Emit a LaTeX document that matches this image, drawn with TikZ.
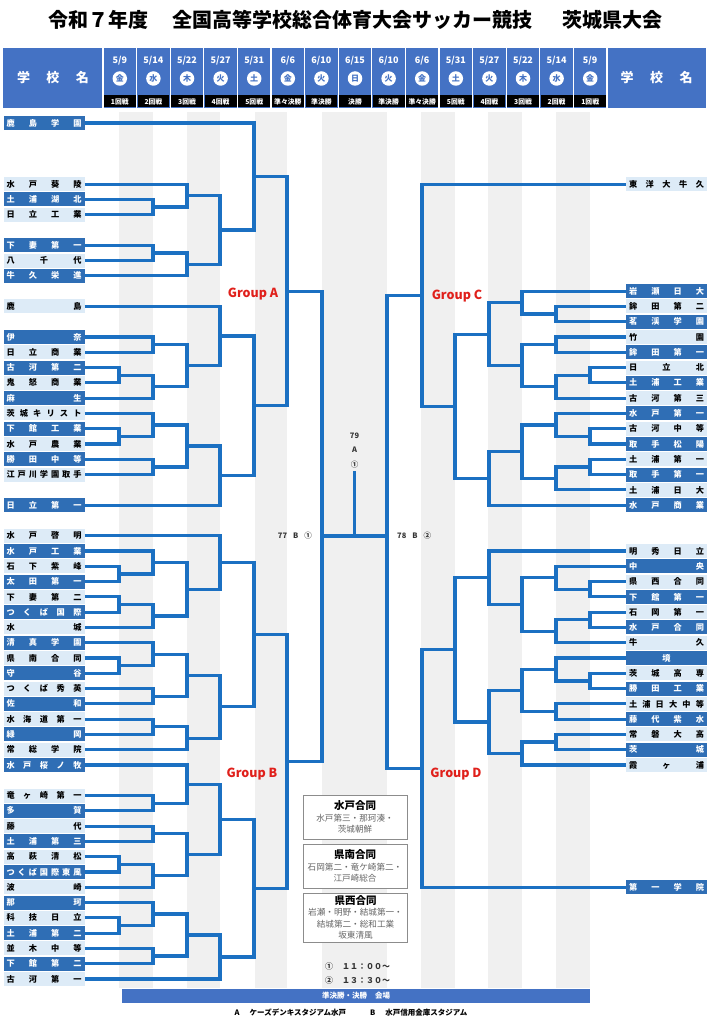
\documentclass[tikz,border=0pt]{standalone}
\usepackage{fontspec}
\setmainfont{Noto Sans CJK JP}
\usetikzlibrary{calc,positioning}

\definecolor{hdblue}{HTML}{4472C4}
\definecolor{tmdk}{HTML}{2F6EB5}
\definecolor{tmlt}{HTML}{DDEBF7}
\definecolor{lnblue}{HTML}{1B70C2}
\definecolor{grpred}{HTML}{E0201B}
\definecolor{stripe}{HTML}{F0F0F0}

\def\sprdA#1{#1\sprdB}
\def\sprdB#1{\ifx\relax#1\else\hfill#1\expandafter\sprdB\fi}
\newcommand\sprd[1]{\makebox[75pt]{\expandafter\sprdA#1\relax}}

\newcommand\mt[4]{%
  \coordinate (#1h) at ($(#3)!.5!(#4)$);
  \coordinate (#1) at (#1h -| #2);
  \draw[br] (#3) -| (#1) |- (#4);}

\tikzset{
  br/.style={draw=lnblue,line width=3.2pt,line join=miter},
  team/.style={minimum width=81pt,minimum height=14pt,inner sep=0pt,
    font=\fontsize{8.2}{8.2}\selectfont\bfseries},
  grp/.style={text=grpred,inner sep=0pt,font=\fontsize{12.5}{13}\selectfont\bfseries},
  lbl/.style={text=black!80,inner sep=0pt,font=\fontsize{7.5}{8}\selectfont\bfseries},
  note/.style={draw=black!45,fill=white,line width=0.8pt,minimum width=104pt,
    align=center,inner sep=0pt,text=black!60,font=\fontsize{8.6}{11.5}\selectfont},
  hdtxt/.style={text=white,inner sep=0pt,font=\fontsize{13}{13}\selectfont\bfseries},
  dtxt/.style={text=white,inner sep=0pt,font=\fontsize{9}{9}\selectfont\bfseries},
  wday/.style={circle,fill=white,text=hdblue,inner sep=0pt,minimum size=14.5pt,
    font=\fontsize{8}{8}\selectfont\bfseries},
  rtxt/.style={text=white,inner sep=0pt,font=\fontsize{6.8}{6.8}\selectfont\bfseries}
}

\begin{document}
\begin{tikzpicture}[x=1pt,y=-1pt]
\useasboundingbox (0,0) rectangle (709,1024);
\fill[white] (0,0) rectangle (709,1024);

\node[font=\fontsize{20}{20}\selectfont\bfseries] at (355,20) (title)
  {令和７年度\hspace{24pt}全国高等学校総合体育大会サッカー競技\hspace{30pt}茨城県大会};

\fill[hdblue] (3,48) rectangle (706,108);
\node[hdtxt] at (53,78) (lname) {\makebox[72pt]{学\hfill 校\hfill 名}};
\node[hdtxt] at (656.5,78) (rname) {\makebox[72pt]{学\hfill 校\hfill 名}};
\foreach \mon/\day/\wkd/\rnd [count=\i from 0] in {5/9/金/1回戦,5/14/水/2回戦,
    5/22/木/3回戦,5/27/火/4回戦,5/31/土/5回戦,6/6/金/準々決勝,6/10/火/準決勝,
    6/15/日/決勝,6/10/火/準決勝,6/6/金/準々決勝,5/31/土/5回戦,5/27/火/4回戦,
    5/22/木/3回戦,5/14/水/2回戦,5/9/金/1回戦} {
  \draw[white,line width=1.2pt] ({103+33.6*\i},48) -- ++(0,60);
  \fill[black] ({103.9+33.6*\i},95) rectangle ++(31.8,12.5);
  \node[dtxt] at ({119.8+33.6*\i},61) (d\i) {\mon/\day};
  \node[wday] at ({119.8+33.6*\i},78.5) (w\i) {\wkd};
  \node[rtxt] at ({119.8+33.6*\i},101.5) (r\i) {\rnd};
}
\draw[white,line width=1.2pt] (607,48) -- ++(0,60);

\foreach \x/\w in {119/34,187/33,255/32,322/65,421/34,488/34,556/34}
  \fill[stripe] (\x,112) rectangle ++(\w,876);

\foreach \sl/\nm [count=\i] in {0/鹿島学園,4/水戸葵陵,5/土浦湖北,6/日立工業,
    8/下妻第一,9/八千代,10/牛久栄進,12/鹿島,14/伊奈,15/日立商業,16/古河第二,
    17/鬼怒商業,18/麻生,19/茨城キリスト,20/下館工業,21/水戸農業,22/勝田中等,
    23/江戸川学園取手,25/日立第一,27/水戸啓明,28/水戸工業,29/石下紫峰,
    30/太田第一,31/下妻第二,32/つくば国際,33/水城,34/清真学園,35/県南合同,
    36/守谷,37/つくば秀英,38/佐和,39/水海道第一,40/緑岡,41/常総学院,
    42/水戸桜ノ牧,44/竜ヶ崎第一,45/多賀,46/藤代,47/土浦第三,48/高萩清松,
    49/つくば国際東風,50/波崎,51/那珂,52/科技日立,53/土浦第二,54/並木中等,
    55/下館第二,56/古河第一} {
  \ifodd\i \def\bg{tmdk}\def\fg{white}\else\def\bg{tmlt}\def\fg{black}\fi
  \node[team,fill=\bg,text=\fg] at (44,{123+15.286*\sl}) (L\sl) {\sprd{\nm}};
}
\foreach \sl/\nm [count=\i] in {4/東洋大牛久,11/岩瀬日大,12/鉾田第二,13/茗渓学園,
    14/竹園,15/鉾田第一,16/日立北,17/土浦工業,18/古河第三,19/水戸第一,
    20/古河中等,21/取手松陽,22/土浦第一,23/取手第一,24/土浦日大,25/水戸商業,
    28/明秀日立,29/中央,30/県西合同,31/下館第一,32/石岡第一,33/水戸合同,
    34/牛久,35/境,36/茨城高専,37/勝田工業,38/土浦日大中等,39/藤代紫水,
    40/常磐大高,41/茨城,42/霞ヶ浦,50/第一学院} {
  \ifodd\i \def\bg{tmlt}\def\fg{black}\else\def\bg{tmdk}\def\fg{white}\fi
  \node[team,fill=\bg,text=\fg] at (666.5,{123+15.286*\sl}) (R\sl) {\sprd{\nm}};
}

\foreach \x [count=\j] in {119,153,187,220,254,287} \coordinate (a\j) at (\x,0);
\foreach \x [count=\j] in {590,556,522,489,455,422} \coordinate (b\j) at (\x,0);

\mt{m1}{a2}{L5.east}{L6.east}
\mt{m2}{a3}{L4.east}{m1}
\mt{m3}{a2}{L8.east}{L9.east}
\mt{m4}{a3}{m3}{L10.east}
\mt{m5}{a4}{m2}{m4}
\mt{m6}{a5}{L0.east}{m5}
\mt{m7}{a2}{L14.east}{L15.east}
\mt{m8}{a1}{L16.east}{L17.east}
\mt{m9}{a2}{m8}{L18.east}
\mt{m10}{a3}{m7}{m9}
\mt{m11}{a4}{L12.east}{m10}
\mt{m12}{a1}{L20.east}{L21.east}
\mt{m13}{a2}{L19.east}{m12}
\mt{m14}{a2}{L22.east}{L23.east}
\mt{m15}{a3}{m13}{m14}
\mt{m16}{a4}{m15}{L25.east}
\mt{m17}{a5}{m11}{m16}
\mt{m18}{a6}{m6}{m17}
\mt{m19}{a1}{L29.east}{L30.east}
\mt{m20}{a2}{L28.east}{m19}
\mt{m21}{a1}{L31.east}{L32.east}
\mt{m22}{a2}{m21}{L33.east}
\mt{m23}{a3}{m20}{m22}
\mt{m24}{a4}{L27.east}{m23}
\mt{m25}{a1}{L35.east}{L36.east}
\mt{m26}{a2}{L34.east}{m25}
\mt{m27}{a2}{L37.east}{L38.east}
\mt{m28}{a3}{m26}{m27}
\mt{m29}{a2}{L39.east}{L40.east}
\mt{m30}{a3}{m29}{L41.east}
\mt{m31}{a4}{m28}{m30}
\mt{m32}{a5}{m24}{m31}
\mt{m33}{a2}{L44.east}{L45.east}
\mt{m34}{a3}{L42.east}{m33}
\mt{m35}{a2}{L46.east}{L47.east}
\mt{m36}{a1}{L48.east}{L49.east}
\mt{m37}{a2}{m36}{L50.east}
\mt{m38}{a3}{m35}{m37}
\mt{m39}{a4}{m34}{m38}
\mt{m40}{a1}{L52.east}{L53.east}
\mt{m41}{a2}{L51.east}{m40}
\mt{m42}{a2}{L54.east}{L55.east}
\mt{m43}{a3}{m41}{m42}
\mt{m44}{a4}{m43}{L56.east}
\mt{m45}{a5}{m39}{m44}
\mt{m46}{a6}{m32}{m45}

\mt{n1}{b2}{R12.west}{R13.west}
\mt{n2}{b3}{R11.west}{n1}
\mt{n3}{b2}{R14.west}{R15.west}
\mt{n4}{b1}{R16.west}{R17.west}
\mt{n5}{b2}{n4}{R18.west}
\mt{n6}{b3}{n3}{n5}
\mt{n7}{b4}{n2}{n6}
\mt{n8}{b1}{R20.west}{R21.west}
\mt{n9}{b2}{R19.west}{n8}
\mt{n10}{b1}{R22.west}{R23.west}
\mt{n11}{b2}{n10}{R24.west}
\mt{n12}{b3}{n9}{n11}
\mt{n13}{b4}{n12}{R25.west}
\mt{n14}{b5}{n7}{n13}
\mt{n15}{b6}{R4.west}{n14}
\mt{n16}{b1}{R30.west}{R31.west}
\mt{n17}{b2}{R29.west}{n16}
\mt{n18}{b1}{R32.west}{R33.west}
\mt{n19}{b2}{n18}{R34.west}
\mt{n20}{b3}{n17}{n19}
\mt{n21}{b4}{R28.west}{n20}
\mt{n22}{b1}{R36.west}{R37.west}
\mt{n23}{b2}{R35.west}{n22}
\mt{n24}{b2}{R38.west}{R39.west}
\mt{n25}{b3}{n23}{n24}
\mt{n26}{b2}{R40.west}{R41.west}
\mt{n27}{b3}{n26}{R42.west}
\mt{n28}{b4}{n25}{n27}
\mt{n29}{b5}{n21}{n28}
\mt{n30}{b6}{n29}{R50.west}

\coordinate (sfL) at (322,536);
\coordinate (sfR) at (387,536);
\coordinate (fin) at (354.5,536);
\coordinate (win) at (354.5,471);
\draw[br] (m18) -| (sfL) |- (m46);
\draw[br] (n15) -| (sfR) |- (n30);
\draw[br] (sfL) -- (sfR);
\draw[br] (fin) -- (win);

\node[lbl,left=10pt of sfL] (s77) {77\hspace{6pt}B\hspace{6pt}①};
\node[lbl,right=10pt of sfR] (s78) {78\hspace{6pt}B\hspace{6pt}②};
\node[lbl,above=3pt of win,align=center,font=\fontsize{7.5}{14.5}\selectfont\bfseries] (s79) {79\\A\\①};

\node[grp] at (253,294) (gA) {Group A};
\node[grp] at (252,774) (gB) {Group B};
\node[grp] at (457,296) (gC) {Group C};
\node[grp] at (456,774) (gD) {Group D};

\node[note,minimum height=44pt] at (355,817) (mito)
  {\textcolor{black}{\fontsize{10.5}{11.5}\selectfont\bfseries 水戸合同}\\水戸第三・那珂湊・\\茨城朝鮮};
\node[note,minimum height=44pt] at (355,866) (kennan)
  {\textcolor{black}{\fontsize{10.5}{11.5}\selectfont\bfseries 県南合同}\\石岡第二・竜ケ崎第二・\\江戸崎総合};
\node[note,minimum height=49pt] at (355.5,917.5) (kensei)
  {\textcolor{black}{\fontsize{10.5}{11.5}\selectfont\bfseries 県西合同}\\岩瀬・明野・結城第一・\\結城第二・総和工業\\坂東清風};

\node[lbl,anchor=west,font=\fontsize{8}{8}\selectfont\bfseries] at (325,966) (t1) {①\hspace{9pt}１１：００～};
\node[lbl,anchor=west,font=\fontsize{8}{8}\selectfont\bfseries] at (325,980) (t2) {②\hspace{9pt}１３：３０～};

\fill[hdblue] (122,989) rectangle (590,1003);
\node[text=white,inner sep=0pt,font=\fontsize{7.5}{8}\selectfont\bfseries] at (356,996) (venue)
  {準決勝・決勝\hspace{8pt}会場};
\node[lbl,text=black,font=\fontsize{7.5}{8}\selectfont\bfseries] at (351,1013) (stad)
  {A\hspace{10pt}ケーズデンキスタジアム水戸\hspace{24pt}B\hspace{10pt}水戸信用金庫スタジアム};
\end{tikzpicture}
\end{document}
